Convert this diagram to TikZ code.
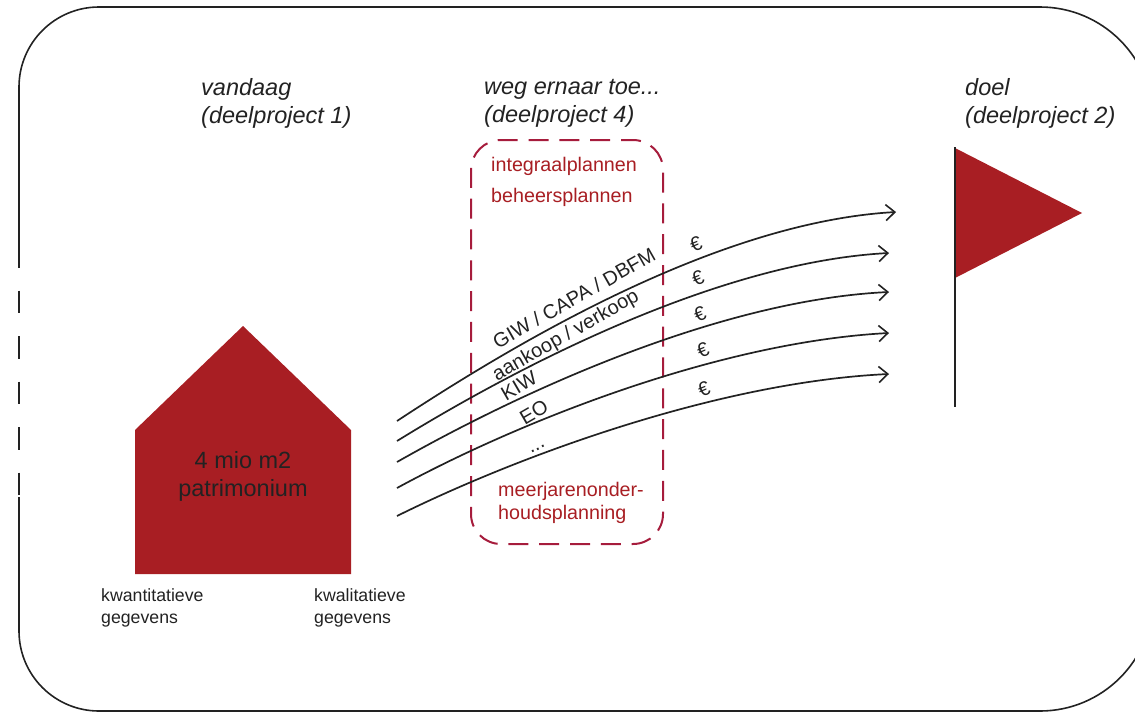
\documentclass[tikz,border=0pt]{standalone}
\usepackage{fontspec}
\setmainfont{Liberation Sans}
\usepackage{xcolor}
\usetikzlibrary{arrows.meta}
\definecolor{flagred}{HTML}{A81E23}
\definecolor{planred}{HTML}{A61C3C}
\definecolor{inkgray}{HTML}{222222}
\tikzstyle{frameline}=[
  draw=inkgray,line width=1.6pt
]
\tikzstyle{route}=[
  draw=inkgray,line width=1.7pt,-{Straight Barb[length=9pt,width=16pt,line width=1.6pt]}
]
\tikzstyle{planbox}=[
  draw=planred,line width=2pt,rounded corners=30pt,dash pattern=on 20pt off 10.82pt,dash phase=8pt,
  minimum width=192pt,minimum height=404pt,inner sep=0pt
]
\tikzstyle{heading}=[
  anchor=west,align=left,inner sep=0pt,text=inkgray,
  font=\fontsize{23.5}{28}\selectfont\itshape
]
\tikzstyle{planlabel}=[
  anchor=west,align=left,inner sep=0pt,text=flagred,
  font=\fontsize{19.7}{23}\selectfont
]
\tikzstyle{routelabel}=[
  inner sep=0pt,text=inkgray,font=\fontsize{20}{24}\selectfont
]
\tikzstyle{eurolabel}=[
  inner sep=0pt,text=inkgray,rotate=22,font=\fontsize{20}{24}\selectfont
]
\tikzstyle{datalabel}=[
  anchor=west,align=left,inner sep=0pt,text=inkgray,
  font=\fontsize{17.7}{22}\selectfont
]
\begin{document}
\begin{tikzpicture}[x=1pt,y=-1pt]
    \clip (0,0) rectangle (1135,713);
    \draw [frameline] (19,245) [rounded corners=80pt] -- (19,7) [rounded corners=113pt] -- (1153,7)
      -- (1153,711) [rounded corners=80pt] -- (19,711) -- (19,497);
    \draw [frameline,dash pattern=on 22.5pt off 23pt] (19,245) -- (19,497);

    \node (vandaag) at (201,103) [heading] {vandaag\\(deelproject 1)};
    \node (weg) at (484,103) [heading] {weg ernaar toe...\\(deelproject 4)};
    \node (doel) at (965,103) [heading] {doel\\(deelproject 2)};

    \fill [flagred] (243,326) -- (351,430) -- (351,574) -- (135,574) -- (135,430) -- cycle;
    \node (stock) at (243,476) [align=center,inner sep=0pt,text=inkgray,
      font=\fontsize{23.5}{28}\selectfont] {4 mio m2\\patrimonium};
    \node (kwant) at (101,608) [datalabel] {kwantitatieve\\gegevens};
    \node (kwal) at (314,608) [datalabel] {kwalitatieve\\gegevens};

    \node (plans) at (567,342) [planbox] {};
    \node (integraal) at (491,166) [planlabel] {integraalplannen};
    \node (beheer) at (491,197) [planlabel] {beheersplannen};
    \node (mjop) at (498,503) [planlabel] {meerjarenonder-\\houdsplanning};

    \coordinate (a1) at (397,421);
    \coordinate (b1) at (896,212);
    \coordinate (a2) at (397,441);
    \coordinate (b2) at (889,253);
    \coordinate (a3) at (397,462);
    \coordinate (b3) at (889,292);
    \coordinate (a4) at (397,488);
    \coordinate (b4) at (889,333);
    \coordinate (a5) at (397,516);
    \coordinate (b5) at (889,374);
    \draw [route] (a1) .. controls (520,340) and (720,222) .. (b1);
    \draw [route] (a2) .. controls (520,365) and (720,262) .. (b2);
    \draw [route] (a3) .. controls (520,392) and (720,300) .. (b3);
    \draw [route] (a4) .. controls (520,421) and (720,342) .. (b4);
    \draw [route] (a5) .. controls (520,455) and (720,382) .. (b5);

    \node (giw) at (574,298) [routelabel,rotate=29.6] {GIW / CAPA / DBFM};
    \node (aankoop) at (566,336) [routelabel,rotate=29.6] {aankoop / verkoop};
    \node (kiw) at (519,386) [routelabel,rotate=30] {KIW};
    \node (eo) at (534,412) [routelabel,rotate=30] {EO};
    \node (more) at (538,449) [routelabel,rotate=25] {...};

    \node (euroa) at (696,244) [eurolabel] {€};
    \node (eurob) at (698,278) [eurolabel] {€};
    \node (euroc) at (700,314) [eurolabel] {€};
    \node (eurod) at (703,350) [eurolabel] {€};
    \node (euroe) at (704,389) [eurolabel] {€};

    \fill [flagred] (955,148) -- (1082,213) -- (955,278) -- cycle;
    \coordinate (poletop) at (955,147);
    \coordinate (polefoot) at (955,407);
    \draw [draw=inkgray,line width=2pt] (poletop) -- (polefoot);
\end{tikzpicture}
\end{document}
